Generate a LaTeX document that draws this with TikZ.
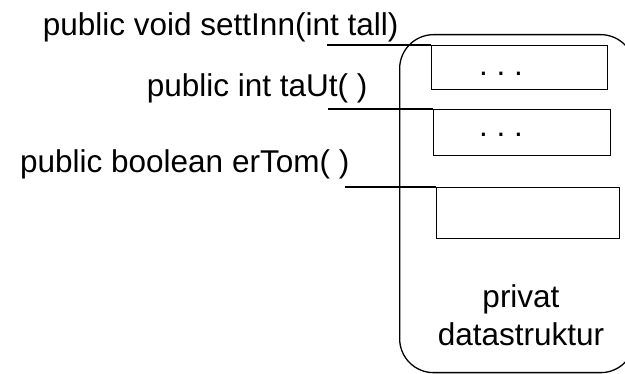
\documentclass[tikz,border=0pt]{standalone}
\usepackage{fontspec}
\setmainfont{Liberation Sans}
\usetikzlibrary{positioning}

\begin{document}
\begin{tikzpicture}[x=1pt,y=-1pt,line width=1.3pt,
    metode/.style={anchor=base east,inner sep=0pt,font=\fontsize{31.5}{36}\selectfont},
    felt/.style={draw,rectangle,anchor=north west,inner sep=0pt},
    tekst/.style={anchor=base,inner sep=0pt,font=\fontsize{31.5}{36}\selectfont}]
            \useasboundingbox (0,0) rectangle (625,374);
            % innkapslet objekt
            \node[draw,rounded corners=34pt,anchor=north west,inner sep=0pt,
                  minimum width=235pt,minimum height=338pt](objekt) at (399,34) {};
            \node[felt,minimum width=176pt,minimum height=44pt](felt1) at (431,45) {};
            \node[felt,minimum width=177pt,minimum height=46pt](felt2) at (433,109) {};
            \node[felt,minimum width=183pt,minimum height=51pt](felt3) at (436,187) {};
            \node[tekst](prikk1) at (501,76)  {.\ .\ .};
            \node[tekst](prikk2) at (501,137) {.\ .\ .};
            \node[tekst](privat) at (521,308) {privat};
            \node[tekst](data)   at (521,346) {datastruktur};
            % metodene
            \node[metode](settInn) at (399,36)  {public void settInn(int tall)};
            \node[metode](taUt)    at (368,97)  {public int taUt( )};
            \node[metode](erTom)   at (350,173) {public boolean erTom( )};
            \coordinate (m1) at (327,45);
            \coordinate (m2) at (328,109);
            \coordinate (m3) at (345,187);
            \path
                (m1) edge [-] (felt1.north west)
                (m2) edge [-] (felt2.north west)
                (m3) edge [-] (felt3.north west)
                ;
        \end{tikzpicture}
\end{document}
